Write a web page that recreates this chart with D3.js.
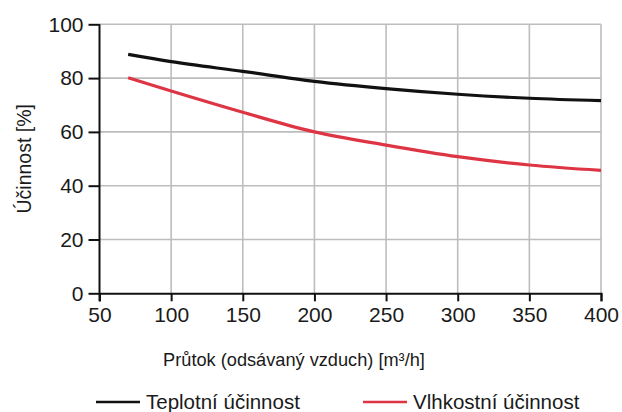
<!DOCTYPE html>
<html>
<head>
<meta charset="utf-8">
<script src="https://cdn.jsdelivr.net/npm/d3@7"></script>
<style>
  body { margin: 0; background: #fff; }
  text { font-family: "Liberation Sans", Arial, sans-serif; fill: #1a1a1a; }
</style>
</head>
<body>
<div id="chart"></div>
<script>
// airflow values (m3/h)
const flows = [70, 100, 150, 200, 250, 300, 350, 400];
const thermal = [88.8, 86.1, 82.5, 78.8, 76.1, 74.0, 72.5, 71.6];
const humidity = [80.1, 75.2, 67.3, 60.0, 55.1, 50.8, 47.7, 45.7];
const xTicks = [50, 100, 150, 200, 250, 300, 350, 400];
const yTicks = [0, 20, 40, 60, 80, 100];
const seriesNames = ["Teplotní účinnost", "Vlhkostní účinnost"];
const seriesColors = ["#111111", "#de3545"];

const width = 622, height = 412;
const margin = { left: 99.5, right: 21, top: 24.3, bottom: 118.7 };

const svg = d3.select('#chart').append('svg')
    .attr('width', width)
    .attr('height', height);

const x = d3.scaleLinear().domain([50, 400]).range([margin.left, width - margin.right]);
const y = d3.scaleLinear().domain([0, 100]).range([height - margin.bottom, margin.top]);

// grid
svg.append('g')
    .selectAll('line.vg')
    .data(xTicks.slice(1))
    .enter().append('line')
    .attr('x1', d => x(d)).attr('x2', d => x(d))
    .attr('y1', y(0)).attr('y2', y(100))
    .attr('stroke', '#bdbdbd').attr('stroke-width', 1.6);

svg.append('g')
    .selectAll('line.hg')
    .data(yTicks.slice(1))
    .enter().append('line')
    .attr('x1', x(50)).attr('x2', x(400))
    .attr('y1', d => y(d)).attr('y2', d => y(d))
    .attr('stroke', '#bdbdbd').attr('stroke-width', 1.6);

// axes
const yAxis = svg.append('g')
    .attr('transform', `translate(${x(50)},0)`)
    .call(d3.axisLeft(y).tickValues(yTicks).tickSize(11).tickPadding(5));

const xAxis = svg.append('g')
    .attr('transform', `translate(0,${y(0)})`)
    .call(d3.axisBottom(x).tickValues(xTicks).tickSize(8).tickPadding(6));

[yAxis, xAxis].forEach(a => {
    a.select('.domain').attr('stroke', '#111').attr('stroke-width', 2);
    a.selectAll('.tick line').attr('stroke', '#111').attr('stroke-width', 2);
    a.selectAll('.tick text')
        .style('font-family', '"Liberation Sans", Arial, sans-serif')
        .style('font-size', '21px')
        .attr('fill', '#1a1a1a');
});
yAxis.select('.domain').attr('d', `M0,${y(100)}V${y(0) + 8}`);

// lines
const line = d3.line()
    .x((d, i) => x(flows[i]))
    .y(d => y(d))
    .curve(d3.curveMonotoneX);

[thermal, humidity].forEach((s, k) => {
    svg.append('path')
        .datum(s)
        .attr('d', line)
        .attr('fill', 'none')
        .attr('stroke', seriesColors[k])
        .attr('stroke-width', 3.2);
});

// axis titles
svg.append('text')
    .attr('transform', `translate(31,${(y(0) + y(100)) / 2}) rotate(-90)`)
    .attr('text-anchor', 'middle')
    .style('font-size', '19.5px')
    .text('Účinnost [%]');

svg.append('text')
    .attr('x', 294)
    .attr('y', 366)
    .attr('text-anchor', 'middle')
    .style('font-size', '18.2px')
    .text('Průtok (odsávaný vzduch) [m³/h]');

// legend
const legendX = [96, 363];
seriesNames.forEach((name, k) => {
    svg.append('line')
        .attr('x1', legendX[k]).attr('x2', legendX[k] + 44)
        .attr('y1', 402).attr('y2', 402)
        .attr('stroke', seriesColors[k])
        .attr('stroke-width', 2.4);
    svg.append('text')
        .attr('x', legendX[k] + 50)
        .attr('y', 409)
        .style('font-size', '20.5px')
        .text(name);
});
</script>
</body>
</html>
